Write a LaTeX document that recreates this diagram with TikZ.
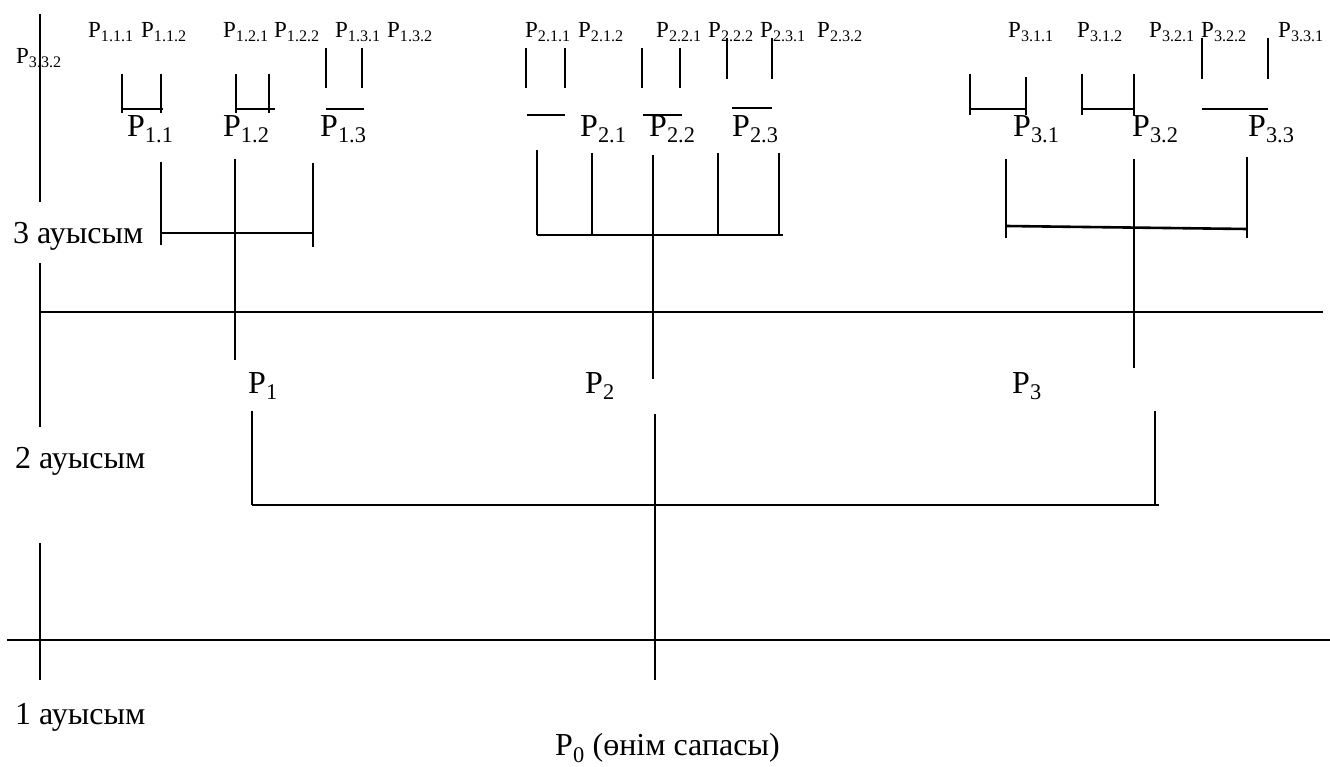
\documentclass[tikz,border=0pt]{standalone}
\usepackage{fontspec}
\setmainfont{Liberation Serif}
\tikzset{
  big/.style={font=\fontsize{32}{38}\selectfont, inner sep=0pt, anchor=west},
  small/.style={font=\fontsize{23}{28}\selectfont, inner sep=0pt, anchor=west},
  ln/.style={line width=2.6pt},
  thin/.style={line width=2.1pt},
  hl/.style={line width=2.9pt}
}
\newcommand\Pl[1]{P\textsubscript{#1}}
\begin{document}
\begin{tikzpicture}[x=1pt,y=-1pt]
\useasboundingbox (0,0) rectangle (1330,767);
% small labels
\node[small] (p111) at (88,32) {\Pl{1.1.1}};
\node[small] (p112) at (141,32) {\Pl{1.1.2}};
\node[small] (p121) at (223,32) {\Pl{1.2.1}};
\node[small] (p122) at (274,32) {\Pl{1.2.2}};
\node[small] (p131) at (335,32) {\Pl{1.3.1}};
\node[small] (p132) at (387,32) {\Pl{1.3.2}};
\node[small] (p211) at (525,32) {\Pl{2.1.1}};
\node[small] (p212) at (578,32) {\Pl{2.1.2}};
\node[small] (p221) at (656,32) {\Pl{2.2.1}};
\node[small] (p222) at (708,32) {\Pl{2.2.2}};
\node[small] (p231) at (760,32) {\Pl{2.3.1}};
\node[small] (p232) at (817,32) {\Pl{2.3.2}};
\node[small] (p311) at (1008,32) {\Pl{3.1.1}};
\node[small] (p312) at (1077,32) {\Pl{3.1.2}};
\node[small] (p321) at (1149,32) {\Pl{3.2.1}};
\node[small] (p322) at (1201,32) {\Pl{3.2.2}};
\node[small] (p331) at (1278,32) {\Pl{3.3.1}};
\node[small] (p332) at (16,58) {\Pl{3.3.2}};
% mid labels
\node[big] (p11) at (127,129) {\Pl{1.1}};
\node[big] (p12) at (223,129) {\Pl{1.2}};
\node[big] (p13) at (320,129) {\Pl{1.3}};
\node[big] (p21) at (580,129) {\Pl{2.1}};
\node[big] (p22) at (649,129) {\Pl{2.2}};
\node[big] (p23) at (732,129) {\Pl{2.3}};
\node[big] (p31) at (1013,129) {\Pl{3.1}};
\node[big] (p32) at (1132,129) {\Pl{3.2}};
\node[big] (p33) at (1248,129) {\Pl{3.3}};
\node[big] (p1) at (248,386) {\Pl{1}};
\node[big] (p2) at (585,386) {\Pl{2}};
\node[big] (p3) at (1012,386) {\Pl{3}};
\node[big] (s3) at (13,236) {3 ауысым};
\node[big] (s2) at (15,461) {2 ауысым};
\node[big] (s1) at (15,717) {1 ауысым};
\node[big] (p0) at (555,748) {\Pl{0} (өнім сапасы)};
% left axis
\draw[ln] (40,14) -- (40,202);
\draw[ln] (40,263) -- (40,427);
\draw[ln] (40,543) -- (40,680);
% horizontal lines
\draw[hl] (40,312) -- (1323,312);
\draw[hl] (7,640) -- (1330,640);
% top small brackets group 1
\draw[thin] (122,74) -- (122,113); \draw[thin] (161,74) -- (161,113); \draw[thin] (122,109) -- (163,109);
\draw[thin] (236,74) -- (236,113); \draw[thin] (269,74) -- (269,113); \draw[thin] (236,109) -- (275,109);
\draw[thin] (326,48) -- (326,88); \draw[thin] (362,48) -- (362,88); \draw[thin] (326,109) -- (364,109);
% group 2
\draw[thin] (526,48) -- (526,88); \draw[thin] (565,48) -- (565,88); \draw[thin] (527,115) -- (565,115);
\draw[thin] (642,48) -- (642,88); \draw[thin] (680,48) -- (680,88); \draw[thin] (643,115) -- (682,115);
\draw[thin] (727,38) -- (727,79); \draw[thin] (772,38) -- (772,79); \draw[thin] (732,108) -- (772,108);
% group 3
\draw[thin] (970,74) -- (970,115); \draw[thin] (1026,77) -- (1026,115); \draw[thin] (970,109) -- (1026,109);
\draw[thin] (1082,74) -- (1082,115); \draw[thin] (1134,74) -- (1134,115); \draw[thin] (1082,109) -- (1134,109);
\draw[thin] (1202,38) -- (1202,79); \draw[thin] (1268,38) -- (1268,79); \draw[thin] (1202,109) -- (1268,109);
% lower bracket 1
\draw[ln] (161,162) -- (161,245);
\draw[ln] (313,163) -- (313,247);
\draw[ln] (161,233) -- (313,233);
\draw[ln] (235,159) -- (235,360);
% lower bracket 2
\draw[ln] (537,150) -- (537,235);
\draw[ln] (592,153) -- (592,235);
\draw[ln] (718,153) -- (718,235);
\draw[ln] (779,153) -- (779,235);
\draw[ln] (537,235) -- (783,235);
\draw[ln] (653,155) -- (653,379);
% lower bracket 3
\draw[ln] (1006,159) -- (1006,238);
\draw[ln] (1247,157) -- (1247,238);
\draw[ln] (1006,226) -- (1247,229);
\draw[ln] (1134,159) -- (1134,368);
% level 2 bracket
\draw[ln] (252,411) -- (252,505);
\draw[ln] (1155,411) -- (1155,505);
\draw[hl] (252,505) -- (1159,505);
\draw[ln] (655,414) -- (655,680);
\end{tikzpicture}
\end{document}
